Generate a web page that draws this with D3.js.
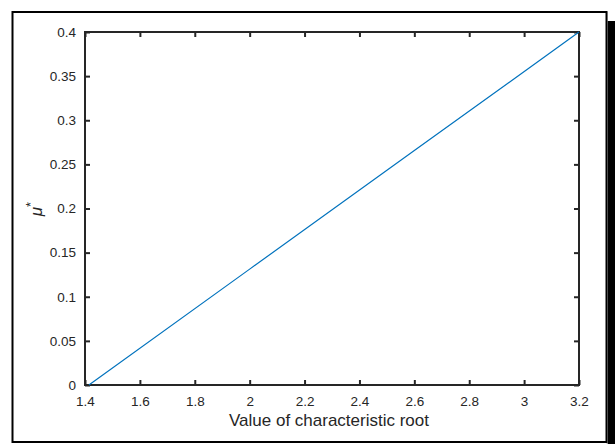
<!DOCTYPE html>
<html>
<head>
<meta charset="utf-8">
<script src="https://cdn.jsdelivr.net/npm/d3@7"></script>
<style>
  html, body { margin: 0; padding: 0; background: #fff; }
  svg { display: block; }
  text { font-family: Arial, "Liberation Sans", Helvetica, sans-serif; fill: #262626; }
</style>
</head>
<body>
<script>
// Series: optimal mu* against the value of the characteristic root
const rootValues = [1.4142, 2.0, 2.6, 3.2];
const muValues = [0.0, 0.1313, 0.2656, 0.4];

// Axis ticks
const xTicks = [1.4, 1.6, 1.8, 2, 2.2, 2.4, 2.6, 2.8, 3, 3.2];
const yTicks = [0, 0.05, 0.1, 0.15, 0.2, 0.25, 0.3, 0.35, 0.4];

const W = 615, H = 444;
const plot = { left: 85, top: 32, right: 579, bottom: 385 };

const svg = d3.select("body").append("svg").attr("width", W).attr("height", H);

// Framed figure panel with a drop shadow
svg.append("rect").attr("x", 607.5).attr("y", 21).attr("width", 8).attr("height", 430).attr("fill", "#000");
svg.append("line").attr("x1", 607).attr("x2", 607).attr("y1", 12).attr("y2", 444).attr("stroke", "#bbb").attr("stroke-width", 1);
svg.append("rect").attr("x", 12.5).attr("y", 12).attr("width", 594).attr("height", 430)
  .attr("fill", "#fff").attr("stroke", "#000").attr("stroke-width", 2);

const x = d3.scaleLinear().domain([1.4, 3.2]).range([plot.left, plot.right]);
const y = d3.scaleLinear().domain([0, 0.4]).range([plot.bottom, plot.top]);

const fmt = d => String(+d.toFixed(2));
const tickLen = 5;

// Bottom and left axes with inward ticks
svg.append("g").attr("transform", `translate(0,${plot.bottom})`)
  .call(d3.axisBottom(x).tickValues(xTicks).tickFormat(fmt).tickSizeInner(-tickLen).tickSizeOuter(0).tickPadding(11));
svg.append("g").attr("transform", `translate(${plot.left},0)`)
  .call(d3.axisLeft(y).tickValues(yTicks).tickFormat(fmt).tickSizeInner(-tickLen).tickSizeOuter(0).tickPadding(9));

// Top and right mirror ticks
svg.append("g").attr("transform", `translate(0,${plot.top})`)
  .call(d3.axisTop(x).tickValues(xTicks).tickFormat("").tickSizeInner(-tickLen).tickSizeOuter(0));
svg.append("g").attr("transform", `translate(${plot.right},0)`)
  .call(d3.axisRight(y).tickValues(yTicks).tickFormat("").tickSizeInner(-tickLen).tickSizeOuter(0));

svg.selectAll(".domain").remove();
svg.selectAll(".tick line").attr("stroke", "#262626").attr("stroke-width", 2);
svg.selectAll(".tick text").attr("font-size", 13.5).attr("fill", "#333");

// Axes box
svg.append("rect")
  .attr("x", plot.left).attr("y", plot.top)
  .attr("width", plot.right - plot.left).attr("height", plot.bottom - plot.top)
  .attr("fill", "none").attr("stroke", "#262626").attr("stroke-width", 2);

// Data line
const line = d3.line().x((d, i) => x(rootValues[i])).y(d => y(d));
svg.append("path").datum(muValues)
  .attr("d", line)
  .attr("fill", "none").attr("stroke", "#0072BD").attr("stroke-width", 1.2);

// Axis titles
svg.append("text")
  .attr("x", 329).attr("y", 426)
  .attr("text-anchor", "middle").attr("font-size", 17)
  .attr("fill", "#333")
  .text("Value of characteristic root");

const yl = svg.append("text")
  .attr("transform", `translate(42,209) rotate(-90)`)
  .attr("text-anchor", "middle").attr("font-size", 17).attr("fill", "#333");
yl.append("tspan").attr("font-style", "italic").text("μ");
yl.append("tspan").attr("dy", -7).attr("font-size", 13).text("*");
</script>
</body>
</html>
